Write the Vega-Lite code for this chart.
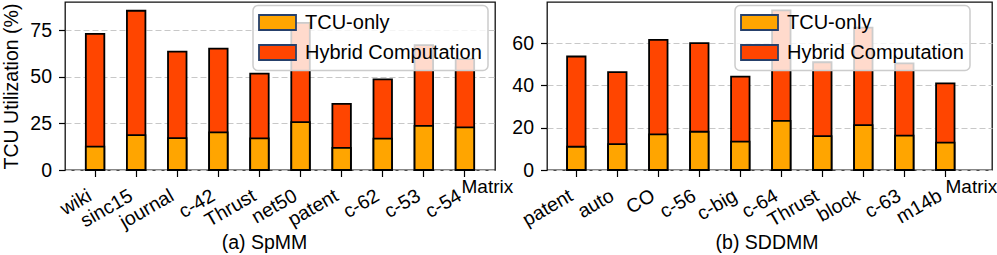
{
  "$schema": "https://vega.github.io/schema/vega-lite/v6.json",
  "autosize": {"type": "none"},
  "padding": {"left": 65, "top": 2, "right": 932, "bottom": 253},
  "background": "white",
  "data": {
    "values": [
      {"panel": "SpMM", "matrix": "wiki", "tcu": 12.5, "hybrid": 72.9},
      {"panel": "SpMM", "matrix": "sinc15", "tcu": 18.7, "hybrid": 85.3},
      {"panel": "SpMM", "matrix": "journal", "tcu": 17.1, "hybrid": 63.4},
      {"panel": "SpMM", "matrix": "c-42", "tcu": 20.2, "hybrid": 65.0},
      {"panel": "SpMM", "matrix": "Thrust", "tcu": 16.9, "hybrid": 51.6},
      {"panel": "SpMM", "matrix": "net50", "tcu": 25.6, "hybrid": 78.8},
      {"panel": "SpMM", "matrix": "patent", "tcu": 11.8, "hybrid": 35.4},
      {"panel": "SpMM", "matrix": "c-62", "tcu": 16.8, "hybrid": 48.6},
      {"panel": "SpMM", "matrix": "c-53", "tcu": 23.6, "hybrid": 66.9},
      {"panel": "SpMM", "matrix": "c-54", "tcu": 22.8, "hybrid": 59.4},
      {"panel": "SDDMM", "matrix": "patent", "tcu": 11.0, "hybrid": 53.7},
      {"panel": "SDDMM", "matrix": "auto", "tcu": 12.2, "hybrid": 46.3},
      {"panel": "SDDMM", "matrix": "CO", "tcu": 16.9, "hybrid": 61.6},
      {"panel": "SDDMM", "matrix": "c-56", "tcu": 18.1, "hybrid": 60.0},
      {"panel": "SDDMM", "matrix": "c-big", "tcu": 13.4, "hybrid": 44.2},
      {"panel": "SDDMM", "matrix": "c-64", "tcu": 23.2, "hybrid": 75.5},
      {"panel": "SDDMM", "matrix": "Thrust", "tcu": 16.0, "hybrid": 51.0},
      {"panel": "SDDMM", "matrix": "block", "tcu": 21.2, "hybrid": 67.4},
      {"panel": "SDDMM", "matrix": "c-63", "tcu": 16.3, "hybrid": 50.5},
      {"panel": "SDDMM", "matrix": "m14b", "tcu": 13.0, "hybrid": 41.0}
    ]
  },
  "hconcat": [
    {
      "width": 430,
      "height": 168,
      "transform": [{"filter": "datum.panel === 'SpMM'"}],
      "layer": [
        {
          "mark": {"type": "bar", "stroke": "black", "strokeWidth": 1.8},
          "encoding": {
            "x": {
              "field": "matrix", "type": "nominal", "sort": null,
              "scale": {"paddingInner": 0.55, "paddingOuter": 0.507, "align": 0.5},
              "axis": {"title": "Matrix", "titleX": 396, "titleY": 22, "titleAlign": "left", "titleBaseline": "alphabetic", "titleFontSize": 19, "orient": "bottom"}
            },
            "y": {"field": "hybrid", "type": "quantitative", "stack": null,
                  "scale": {"domain": [0, 90], "nice": false},
                  "axis": {"title": "TCU Utilization (%)", "values": [0, 25, 50, 75], "titleX": -48, "titleY": 84, "titleAlign": "center", "titleBaseline": "alphabetic", "titleAngle": -90}},
            "color": {"datum": "Hybrid Computation", "type": "nominal",
                      "scale": {"domain": ["TCU-only", "Hybrid Computation"], "range": ["#FFA500", "#FF4500"]}}
          }
        },
        {
          "mark": {"type": "bar", "stroke": "black", "strokeWidth": 1.8},
          "encoding": {
            "x": {
              "field": "matrix", "type": "nominal", "sort": null,
              "axis": {"title": "(a) SpMM", "orient": "bottom", "labels": false, "ticks": false, "domain": false, "grid": false, "titleX": 199, "titleY": 78, "titleAlign": "center", "titleBaseline": "alphabetic"}
            },
            "y": {"field": "tcu", "type": "quantitative", "stack": null,
                  "axis": {"title": "TCU Utilization (%)", "values": [0, 25, 50, 75], "titleX": -48, "titleY": 84, "titleAlign": "center", "titleBaseline": "alphabetic", "titleAngle": -90}},
            "color": {"datum": "TCU-only", "type": "nominal"}
          }
        }
      ],
      "resolve": {"axis": {"x": "independent"}}
    },
    {
      "width": 445,
      "height": 168,
      "transform": [{"filter": "datum.panel === 'SDDMM'"}],
      "layer": [
        {
          "mark": {"type": "bar", "stroke": "black", "strokeWidth": 1.8},
          "encoding": {
            "x": {
              "field": "matrix", "type": "nominal", "sort": null,
              "scale": {"paddingInner": 0.55, "paddingOuter": 0.702, "align": 0.349},
              "axis": {"title": "Matrix", "titleX": 398, "titleY": 22, "titleAlign": "left", "titleBaseline": "alphabetic", "titleFontSize": 19, "orient": "bottom"}
            },
            "y": {"field": "hybrid", "type": "quantitative", "stack": null,
                  "scale": {"domain": [0, 79.5], "nice": false},
                  "axis": {"title": null, "values": [0, 20, 40, 60]}},
            "color": {"datum": "Hybrid Computation", "type": "nominal",
                      "scale": {"domain": ["TCU-only", "Hybrid Computation"], "range": ["#FFA500", "#FF4500"]}}
          }
        },
        {
          "mark": {"type": "bar", "stroke": "black", "strokeWidth": 1.8},
          "encoding": {
            "x": {
              "field": "matrix", "type": "nominal", "sort": null,
              "axis": {"title": "(b) SDDMM", "orient": "bottom", "labels": false, "ticks": false, "domain": false, "grid": false, "titleX": 219.5, "titleY": 78, "titleAlign": "center", "titleBaseline": "alphabetic"}
            },
            "y": {"field": "tcu", "type": "quantitative", "stack": null,
                  "axis": {"title": null, "values": [0, 20, 40, 60]}},
            "color": {"datum": "TCU-only", "type": "nominal"}
          }
        }
      ],
      "resolve": {"axis": {"x": "independent"}}
    }
  ],
  "spacing": 52,
  "bounds": "flush",
  "resolve": {"scale": {"y": "independent", "x": "independent", "color": "independent"}, "legend": {"color": "independent"}, "axis": {"y": "independent", "x": "independent"}},
  "config": {
    "font": "Liberation Sans",
    "view": {"stroke": "#111111", "strokeWidth": 1.3},
    "axis": {
      "labelFont": "Liberation Sans", "labelFontSize": 19.5, "labelColor": "black",
      "titleFont": "Liberation Sans", "titleFontSize": 19.5, "titleColor": "black", "titleFontWeight": "normal",
      "tickColor": "black", "tickSize": 6.5, "tickWidth": 1.2, "domain": false,
      "gridColor": "#c8c8c8", "gridDash": [6, 3], "gridWidth": 1
    },
    "axisX": {"grid": false, "labelAngle": -30, "labelAlign": "right", "labelBaseline": "bottom", "labelPadding": 26},
    "axisY": {"grid": true, "labelPadding": 7},
    "legend": {
      "orient": "none", "legendX": 188, "legendY": 3.5, "title": null,
      "labelFont": "Liberation Sans", "labelFontSize": 20, "labelColor": "black", "labelLimit": 400,
      "symbolType": "M-1.1,-0.75H2.6V0.75H-1.1Z", "symbolSize": 400,
      "symbolStrokeWidth": 1.8, "symbolStrokeColor": "#26406b", "symbolOpacity": 1,
      "padding": 6, "rowPadding": 6, "labelOffset": 24,
      "fillColor": "rgba(255,255,255,0.8)", "strokeColor": "#cccccc", "strokeWidth": 1.5, "cornerRadius": 5
    }
  }
}
